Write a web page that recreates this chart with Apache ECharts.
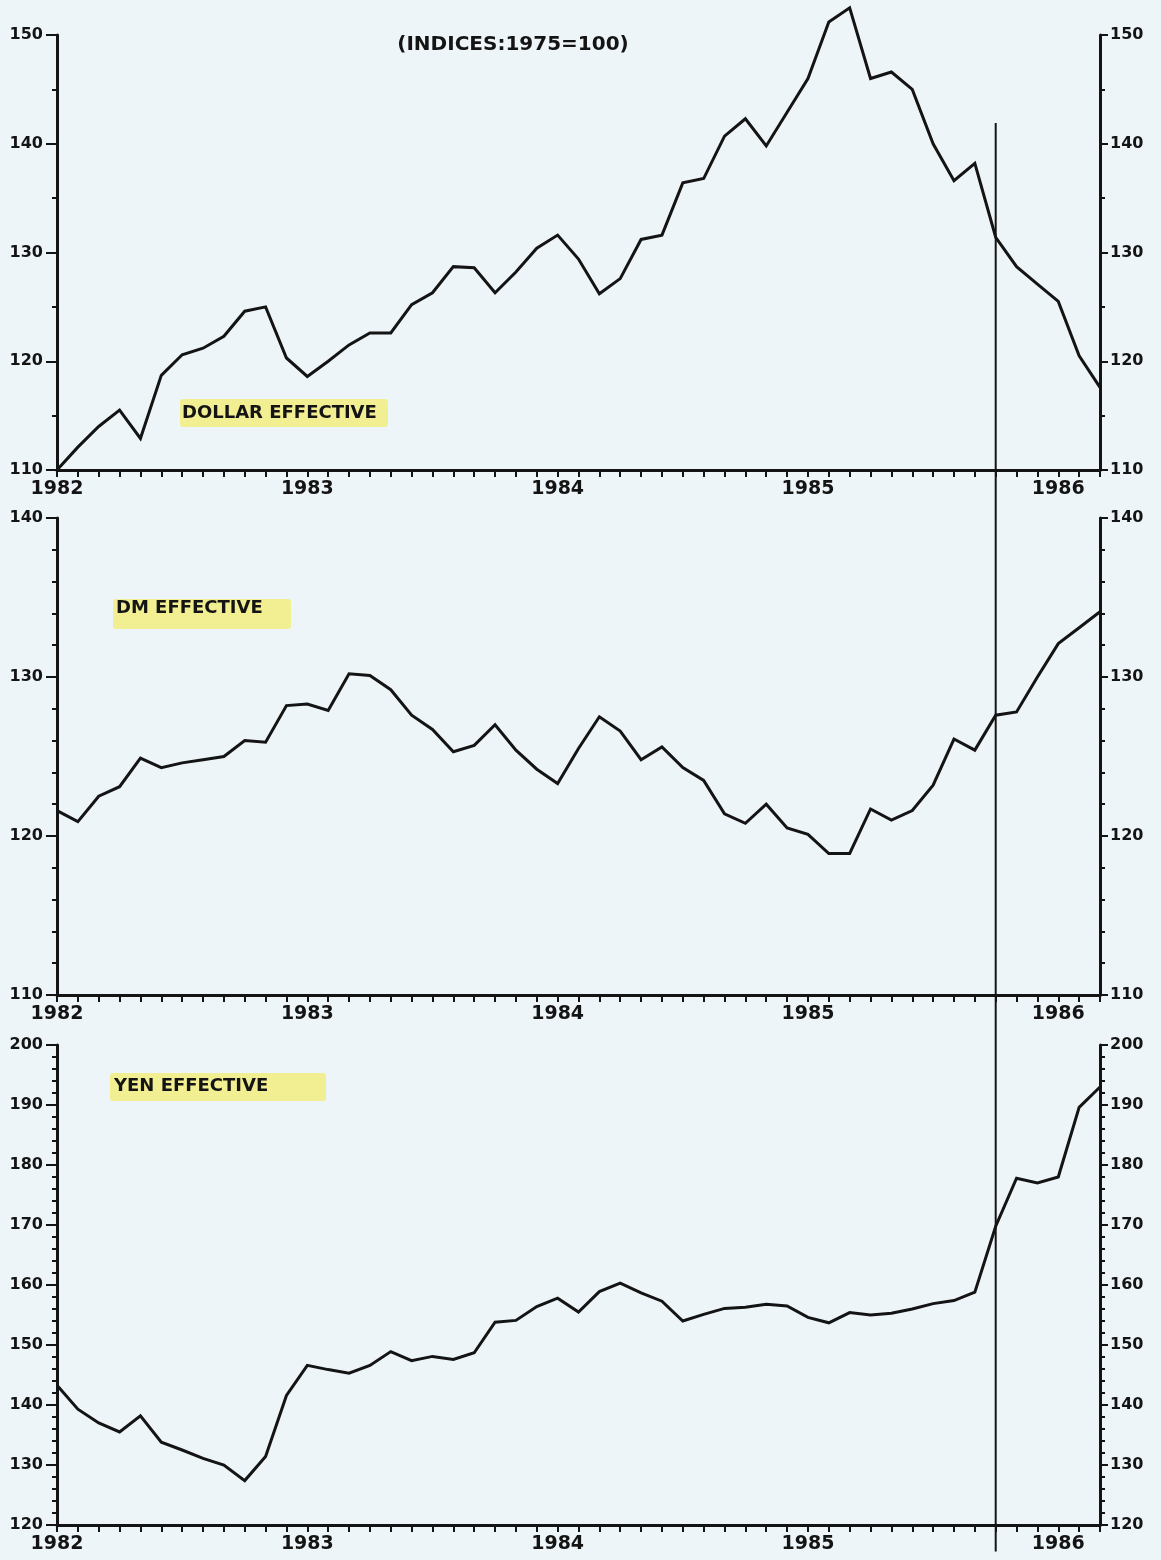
<!DOCTYPE html>
<html>
<head>
<meta charset="utf-8">
<script src="https://cdn.jsdelivr.net/npm/echarts/dist/echarts.min.js"></script>
<style>
  html, body { margin: 0; padding: 0; background: #eef5f8; }
  #chart { width: 1161px; height: 1560px; }
</style>
</head>
<body>
<div id="chart"></div>
<script>
// Monthly effective exchange-rate indices (1975 = 100), Jan 1982 – Mar 1986.
const YEAR_LABELS = ['1982', '1983', '1984', '1985', '1986'];

const dollarEffective = [
  110.0, 112.1, 114.0, 115.5, 112.9, 118.7, 120.6, 121.2, 122.3, 124.6, 125.0, 120.3,
  118.6, 120.0, 121.5, 122.6, 122.6, 125.2, 126.3, 128.7, 128.6, 126.3, 128.2, 130.4,
  131.6, 129.4, 126.2, 127.6, 131.2, 131.6, 136.4, 136.8, 140.7, 142.3, 139.8, 142.9,
  146.0, 151.2, 152.5, 146.0, 146.6, 145.0, 140.0, 136.6, 138.2, 131.4, 128.7, 127.1,
  125.5, 120.5, 117.6
];

const dmEffective = [
  121.6, 120.9, 122.5, 123.1, 124.9, 124.3, 124.6, 124.8, 125.0, 126.0, 125.9, 128.2,
  128.3, 127.9, 130.2, 130.1, 129.2, 127.6, 126.7, 125.3, 125.7, 127.0, 125.4, 124.2,
  123.3, 125.5, 127.5, 126.6, 124.8, 125.6, 124.3, 123.5, 121.4, 120.8, 122.0, 120.5,
  120.1, 118.9, 118.9, 121.7, 121.0, 121.6, 123.2, 126.1, 125.4, 127.6, 127.8, 130.0,
  132.1, 133.1, 134.1
];

const yenEffective = [
  143.3, 139.3, 137.0, 135.5, 138.2, 133.8, 132.5, 131.1, 130.0, 127.4, 131.4, 141.6,
  146.6, 145.9, 145.3, 146.6, 148.9, 147.4, 148.1, 147.6, 148.7, 153.8, 154.1, 156.4,
  157.8, 155.5, 158.9, 160.3, 158.7, 157.3, 154.0, 155.1, 156.1, 156.3, 156.8, 156.5,
  154.6, 153.7, 155.4, 155.0, 155.3, 156.0, 156.9, 157.4, 158.8, 169.8, 177.8, 177.0,
  178.0, 189.6, 193.0
];

// Month (counted from Jan 1982) marked by the vertical rule, and its vertical reach
const EVENT_MONTH = 45;
const EVENT_TOP_VALUE = 141.9;    // on the dollar scale
const EVENT_BOTTOM_VALUE = 115.6; // on the yen scale (runs past the axis)

const INK = '#141414';
const FONT = 'DejaVu Sans';
const HIGHLIGHT = '#f2ee92';

const panels = [
  { name: 'DOLLAR EFFECTIVE', values: dollarEffective, min: 110, max: 150, minorSplit: 2, top: 35, height: 435 },
  { name: 'DM EFFECTIVE',     values: dmEffective,     min: 110, max: 140, minorSplit: 5, top: 518, height: 477 },
  { name: 'YEN EFFECTIVE',    values: yenEffective,    min: 120, max: 200, minorSplit: 5, top: 1045, height: 480 }
];

const lastMonth = dollarEffective.length - 1;

const grids = [], xAxes = [], yAxes = [], series = [];

panels.forEach((p, i) => {
  grids.push({ left: 57, right: 61, top: p.top, height: p.height, containLabel: false });

  xAxes.push({
    type: 'value', gridIndex: i, min: 0, max: lastMonth, interval: 1,
    axisLine: { show: true, onZero: false, lineStyle: { color: INK, width: 3 } },
    axisTick: { show: true, length: 7, lineStyle: { color: INK, width: 2 } },
    splitLine: { show: false },
    axisLabel: {
      show: true, margin: 10, color: INK, fontFamily: FONT, fontWeight: 'bold', fontSize: 19,
      formatter: v => (v % 12 === 0 ? YEAR_LABELS[v / 12] : '')
    }
  });

  ['left', 'right'].forEach(side => {
    yAxes.push({
      type: 'value', gridIndex: i, position: side, min: p.min, max: p.max, interval: 10,
      axisLine: { show: true, lineStyle: { color: INK, width: 3 } },
      axisTick: { show: true, length: side === 'left' ? 11 : 8, lineStyle: { color: INK, width: 2 } },
      minorTick: { show: true, splitNumber: p.minorSplit, length: 5, lineStyle: { color: INK, width: 2 } },
      splitLine: { show: false },
      minorSplitLine: { show: false },
      axisLabel: {
        show: true, margin: side === 'left' ? 14 : 10, color: INK,
        fontFamily: FONT, fontWeight: 'bold', fontSize: 16
      }
    });
  });

  series.push({
    name: p.name, type: 'line', xAxisIndex: i, yAxisIndex: i * 2,
    data: p.values.map((v, m) => [m, v]),
    showSymbol: false, clip: false, silent: true,
    lineStyle: { color: INK, width: 3, join: 'miter' }
  });
});

const chart = echarts.init(document.getElementById('chart'), null, { renderer: 'canvas' });
chart.setOption({
  backgroundColor: '#eef5f8',
  animation: false,
  grid: grids,
  xAxis: xAxes,
  yAxis: yAxes,
  series: series
});

// Vertical rule through all three panels at the marked month
const ruleX = chart.convertToPixel({ xAxisIndex: 0 }, EVENT_MONTH);
const ruleTop = chart.convertToPixel({ yAxisIndex: 0 }, EVENT_TOP_VALUE);
const ruleBottom = chart.convertToPixel({ yAxisIndex: 4 }, EVENT_BOTTOM_VALUE);

function panelLabel(text, boxX, boxY, boxW, boxH, textX, textY) {
  return [
    { type: 'rect', z: 1, shape: { x: boxX, y: boxY, width: boxW, height: boxH, r: 3 },
      style: { fill: HIGHLIGHT } },
    { type: 'text', z: 2, x: textX, y: textY,
      style: { text: text, fill: INK, font: 'bold 18px "' + FONT + '"', align: 'left', verticalAlign: 'middle' } }
  ];
}

chart.setOption({
  graphic: [
    { type: 'text', x: 513, y: 45,
      style: { text: '(INDICES:1975=100)', fill: INK, font: 'bold 20px "' + FONT + '"', align: 'center', verticalAlign: 'middle' } },
    ...panelLabel('DOLLAR EFFECTIVE', 180, 399, 208, 28, 182, 413),
    ...panelLabel('DM EFFECTIVE', 113, 599, 178, 30, 116, 608),
    ...panelLabel('YEN EFFECTIVE', 110, 1073, 216, 28, 114, 1086),
    { type: 'line', z: 3, shape: { x1: ruleX, y1: ruleTop, x2: ruleX, y2: ruleBottom },
      style: { stroke: INK, lineWidth: 2 } }
  ]
});
</script>
</body>
</html>
